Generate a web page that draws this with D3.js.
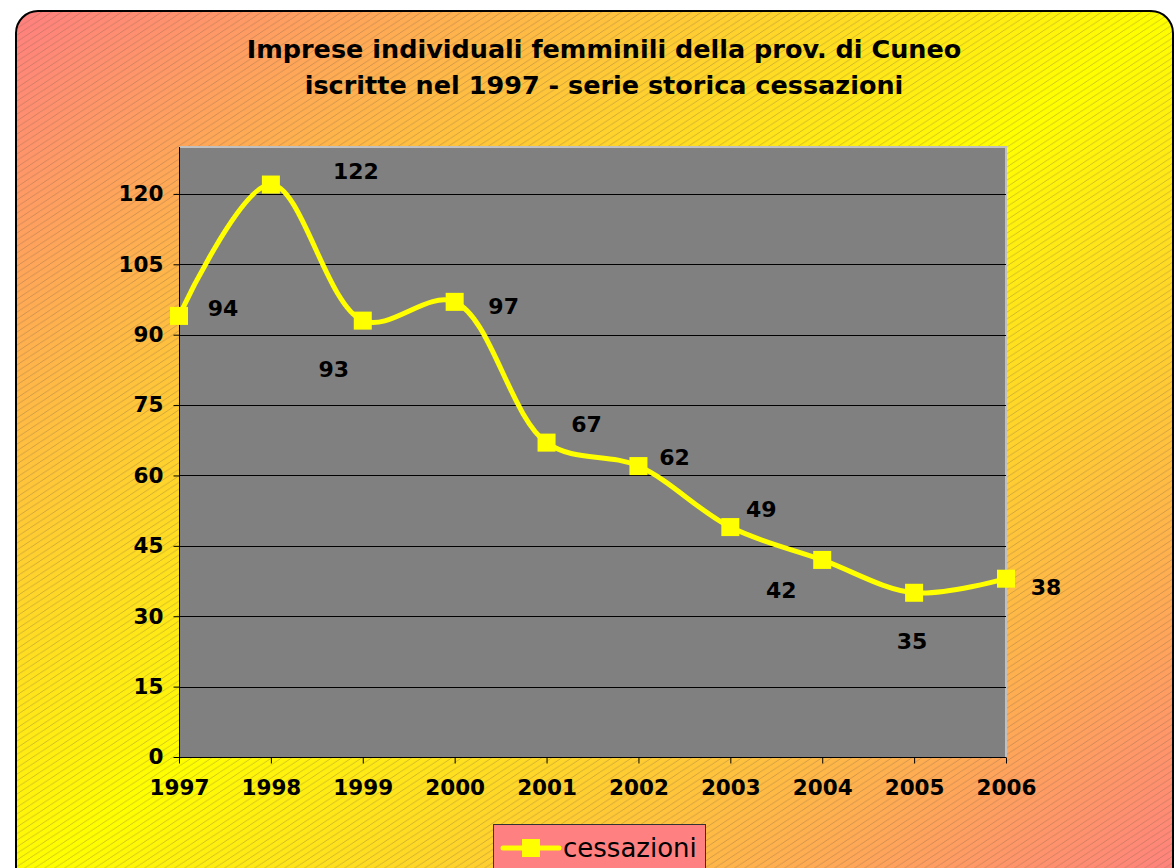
<!DOCTYPE html>
<html>
<head>
<meta charset="utf-8">
<script src="https://cdn.jsdelivr.net/npm/d3@7"></script>
<style>
  body { margin: 0; background: #fff; }
  svg { display: block; font-family: "DejaVu Sans", Verdana, sans-serif; }
</style>
</head>
<body>
<svg id="chart" width="1175" height="868"></svg>
<script>
/* global d3 */

const years = ['1997', '1998', '1999', '2000', '2001', '2002', '2003', '2004', '2005', '2006'];
const cessazioni = [94, 122, 93, 97, 67, 62, 49, 42, 35, 38];
const yTicks = [0, 15, 30, 45, 60, 75, 90, 105, 120];
const titleLines = ['Imprese individuali femminili della prov. di Cuneo',
  'iscritte nel 1997 - serie storica cessazioni'];
const seriesName = 'cessazioni';

// where Excel left each data label, relative to its point
const labelOffsets = [[44, -8], [85, -13], [-29, 48], [49, 4], [40, -19],
  [36, -9], [31, -18], [-41, 30], [-2, 48], [40, 8]];

const svg = d3.select('#chart');
const plot = { left: 179, right: 1006, top: 147, bottom: 757 };

const defs = svg.append('defs');
const grad = defs.append('linearGradient')
  .attr('id', 'bg')
  .attr('x1', 0).attr('y1', 0).attr('x2', 1).attr('y2', 1);
grad.append('stop').attr('offset', 0).attr('stop-color', '#ff7f80');
grad.append('stop').attr('offset', 0.5).attr('stop-color', '#ffff00');
grad.append('stop').attr('offset', 1).attr('stop-color', '#ff7f80');

const hatch = defs.append('pattern')
  .attr('id', 'hatch')
  .attr('patternUnits', 'userSpaceOnUse')
  .attr('width', 10).attr('height', 6.6);
hatch.append('path')
  .attr('d', 'M0,6.6 L10,0 M-10,6.6 L0,0 M10,6.6 L20,0')
  .attr('stroke', 'rgba(110,90,70,0.4)')
  .attr('stroke-width', 0.8);

// chart area
svg.append('rect')
  .attr('x', 16).attr('y', 11).attr('width', 1157).attr('height', 880)
  .attr('rx', 22).attr('ry', 22)
  .attr('fill', 'url(#bg)');
svg.append('rect')
  .attr('x', 16).attr('y', 11).attr('width', 1157).attr('height', 880)
  .attr('rx', 22).attr('ry', 22)
  .attr('fill', 'url(#hatch)')
  .attr('stroke', '#000')
  .attr('stroke-width', 2);

// title
svg.append('text')
  .attr('x', 604).attr('y', 58)
  .attr('text-anchor', 'middle')
  .attr('font-size', 25.5).attr('font-weight', 'bold')
  .selectAll('tspan')
  .data(titleLines)
  .enter()
  .append('tspan')
  .attr('x', 604)
  .attr('dy', (d, i) => (i === 0 ? 0 : 36))
  .text(d => d);

const x = d3.scalePoint().domain(years).range([plot.left, plot.right]);
const y = d3.scaleLinear().domain([0, 130]).range([plot.bottom, plot.top]);

// plot area
svg.append('rect')
  .attr('x', plot.left).attr('y', plot.top)
  .attr('width', plot.right - plot.left).attr('height', plot.bottom - plot.top)
  .attr('fill', '#808080');
svg.append('path')
  .attr('d', `M${plot.left},${plot.top}H${plot.right}V${plot.bottom}`)
  .attr('fill', 'none')
  .attr('stroke', '#c0c0c0')
  .attr('stroke-width', 2);

svg.append('g')
  .selectAll('line')
  .data(yTicks.filter(d => d > 0))
  .enter()
  .append('line')
  .attr('x1', plot.left).attr('x2', plot.right)
  .attr('y1', d => Math.round(y(d)) + 0.5).attr('y2', d => Math.round(y(d)) + 0.5)
  .attr('stroke', '#000');

const yAxis = svg.append('g')
  .attr('transform', `translate(${plot.left + 0.5},0)`)
  .call(d3.axisLeft(y).tickValues(yTicks).tickSize(6).tickPadding(10).tickSizeOuter(0));
const xAxis = svg.append('g')
  .attr('transform', `translate(0,${plot.bottom + 0.5})`)
  .call(d3.axisBottom(x).tickSize(6).tickPadding(16).tickSizeOuter(0));

[yAxis, xAxis].forEach((g) => {
  g.selectAll('path, line').attr('stroke', '#000');
  g.selectAll('text')
    .attr('fill', '#000')
    .attr('font-size', 21.5)
    .attr('font-weight', 'bold')
    .attr('font-family', '"DejaVu Sans", Verdana, sans-serif');
});
yAxis.select('.domain').attr('d', `M0,${plot.top}V${plot.bottom}`);
xAxis.select('.domain').attr('d', `M${plot.left},0H${plot.right}`);

// series
const line = d3.line()
  .x((d, i) => x(years[i]))
  .y(d => y(d))
  .curve(d3.curveCatmullRom.alpha(0.5));

svg.append('path')
  .datum(cessazioni)
  .attr('d', line)
  .attr('fill', 'none')
  .attr('stroke', '#ffff00')
  .attr('stroke-width', 5)
  .attr('stroke-linejoin', 'round');

svg.append('g')
  .selectAll('rect')
  .data(cessazioni)
  .enter()
  .append('rect')
  .attr('x', (d, i) => x(years[i]) - 9)
  .attr('y', d => y(d) - 9)
  .attr('width', 18).attr('height', 18)
  .attr('fill', '#ffff00');

svg.append('g')
  .selectAll('text')
  .data(cessazioni)
  .enter()
  .append('text')
  .attr('x', (d, i) => x(years[i]) + labelOffsets[i][0])
  .attr('y', (d, i) => y(d) + labelOffsets[i][1])
  .attr('dy', '0.36em')
  .attr('text-anchor', 'middle')
  .attr('font-size', 22).attr('font-weight', 'bold')
  .text(d => d);

// legend
const legend = svg.append('g').attr('transform', 'translate(493,824)');
legend.append('rect')
  .attr('x', 0.5).attr('y', 0.5).attr('width', 212).attr('height', 44)
  .attr('fill', '#ff8080')
  .attr('stroke', '#333')
  .attr('stroke-width', 1);
legend.append('line')
  .attr('x1', 10).attr('x2', 66).attr('y1', 24).attr('y2', 24)
  .attr('stroke', '#ffff00').attr('stroke-width', 5).attr('stroke-linecap', 'round');
legend.append('rect')
  .attr('x', 29).attr('y', 15).attr('width', 18).attr('height', 18)
  .attr('fill', '#ffff00');
legend.append('text')
  .attr('x', 70).attr('y', 33)
  .attr('font-size', 26)
  .text(seriesName);
</script>
</body>
</html>
